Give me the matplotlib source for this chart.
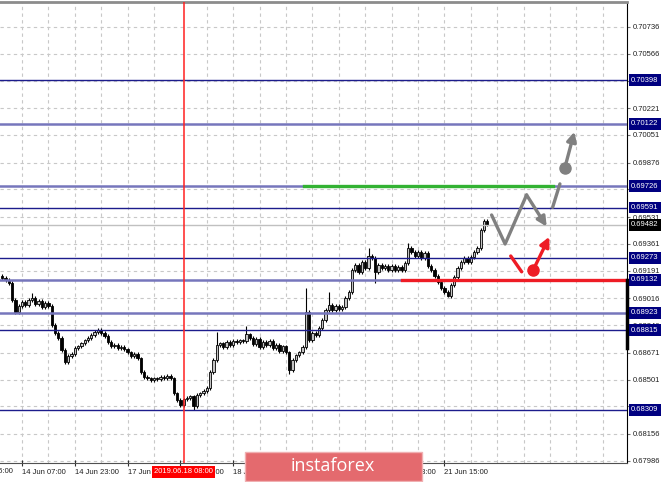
import matplotlib.pyplot as plt
from matplotlib.patches import Rectangle
import numpy as np

# ---------------- data ----------------

# hourly bars, index 0 = 14 Jun 07:00
first_bar = -6
first_open = 0.69157
closes = [
    0.69145, 0.69132, 0.69113, 0.69005, 0.68929, 0.68967,
    0.68992, 0.68973, 0.69005, 0.69018, 0.68980, 0.68999, 0.68961, 0.68986,
    0.68967, 0.68847, 0.68796, 0.68764, 0.68688, 0.68612, 0.68650, 0.68663,
    0.68701, 0.68713, 0.68732, 0.68751, 0.68764, 0.68783, 0.68802, 0.68815,
    0.68796, 0.68777, 0.68739, 0.68713, 0.68720, 0.68701, 0.68707, 0.68694,
    0.68675, 0.68650, 0.68663, 0.68637, 0.68549, 0.68517, 0.68510, 0.68498,
    0.68510, 0.68504, 0.68517, 0.68510, 0.68523, 0.68510, 0.68415, 0.68371,
    0.68339, 0.68377, 0.68384, 0.68396, 0.68333, 0.68403, 0.68415, 0.68428,
    0.68447, 0.68549, 0.68625, 0.68720, 0.68732, 0.68707, 0.68739, 0.68720,
    0.68745, 0.68739, 0.68751, 0.68745, 0.68789, 0.68764, 0.68726, 0.68758,
    0.68707, 0.68739, 0.68720, 0.68745, 0.68701, 0.68720, 0.68682, 0.68713,
    0.68675, 0.68561, 0.68625, 0.68656, 0.68675, 0.68707, 0.68929, 0.68751,
    0.68796, 0.68783, 0.68828, 0.68878, 0.68942, 0.68973, 0.68942, 0.68967,
    0.68948, 0.68961, 0.69018, 0.69056, 0.69195, 0.69227, 0.69183, 0.69246,
    0.69208, 0.69284, 0.69271, 0.69183, 0.69227, 0.69208, 0.69221, 0.69195,
    0.69221, 0.69195, 0.69214, 0.69195, 0.69240, 0.69335, 0.69309, 0.69284,
    0.69309, 0.69271, 0.69303, 0.69221, 0.69195, 0.69157, 0.69119, 0.69081,
    0.69056, 0.69030, 0.69100, 0.69151, 0.69208, 0.69246, 0.69271, 0.69246,
    0.69278, 0.69309, 0.69335, 0.69449, 0.69506, 0.69482,
]
# long wicks that stand out
high_spikes = {3: 0.69050, 59: 0.68802, 68: 0.68840, 86: 0.69081, 93: 0.69056,
               105: 0.69335, 117: 0.69366}
low_spikes = {13: 0.68599, 52: 0.68308, 81: 0.68536, 107: 0.69113, 129: 0.69024}

grid_prices = [0.70736, 0.70566, 0.70396, 0.70221, 0.70051, 0.69876, 0.69706,
               0.69531, 0.69361, 0.69191, 0.69016, 0.68846, 0.68671, 0.68501,
               0.68331, 0.68156, 0.67986]
levels_dark = [0.70398, 0.69591, 0.69273, 0.68815, 0.68309]
levels_light = [0.70122, 0.69726, 0.69132, 0.68923]
current_price = 0.69482
spread_marker = (0.68701, 0.69132)

time_ticks = [-16, 0, 16, 32, 48, 64, 80, 96, 112, 128]
time_labels = ["13 Jun 15:00", "14 Jun 07:00", "14 Jun 23:00", "17 Jun 15:00",
               "18 Jun 07:00", "18 Jun 23:00", "19 Jun 15:00", "20 Jun 07:00",
               "20 Jun 23:00", "21 Jun 15:00"]
event_bar = 49
event_label = "2019.06.18 08:00"

target_price = 0.69726
target_span = (85.5, 160.9)
support_price = 0.69132
support_start = 115

gray_path = [(142.3, 0.69544), (146.4, 0.69360), (152.9, 0.69671), (159.0, 0.69470)]
gray_break = [(160.8, 0.69593), (163.0, 0.69741)]
gray_dot = (164.5, 0.69844)
gray_target = (167.4, 0.70072)
red_dash = [(148.1, 0.69284), (151.4, 0.69184)]
red_dot = (154.9, 0.69195)
red_target = (159.8, 0.69406)

# ---------------- figure ----------------

fig = plt.figure(figsize=(6.65, 4.82), dpi=100)
ax = fig.add_axes([0, 19 / 482, 627 / 665, 461 / 482])
ax.set_xlim(-6.67, 183.33)
ax.set_ylim(0.67972, 0.70894)

font = ['Liberation Sans', 'DejaVu Sans']
navy = '#000080'
red = '#ee1c25'
gray = '#808080'

# grid
for p in grid_prices:
    ax.axhline(p, color='#c8c8c8', lw=0.8, ls=(0, (3, 3)), zorder=0)
for b in range(0, 184, 8):
    if b == 48:
        continue  # hidden behind the event line
    ax.axvline(b, color='#c8c8c8', lw=0.8, ls=(0, (3, 3)), zorder=0)

# candles
closes = np.array(closes)
opens = np.concatenate([[first_open], closes[:-1]])
bars = np.arange(first_bar, first_bar + len(closes))
tops = np.maximum(opens, closes)
bottoms = np.minimum(opens, closes)
highs = tops + 0.0001
lows = bottoms - 0.0001
for b, v in high_spikes.items():
    highs[b - first_bar] = v
for b, v in low_spikes.items():
    lows[b - first_bar] = v
bull = closes >= opens
ax.vlines(bars, lows, highs, color='black', lw=0.8, zorder=2)
ax.bar(bars, np.maximum(tops - bottoms, 0.00002), bottom=bottoms, width=0.7,
       color=np.where(bull, '#c4c4c4', 'black'), edgecolor='black', lw=0.6,
       zorder=2.1)

# horizontal levels
for p in levels_dark:
    ax.axhline(p, color='#1c1c8c', lw=1.0, zorder=3)
for p in levels_light:
    ax.axhline(p, color='#7676bc', lw=1.8, zorder=3)
ax.axhline(current_price, color='#c0c0c0', lw=1.0, zorder=3)
ax.axvline(event_bar, color='#ff2020', lw=1.1, zorder=3)

ax.plot(target_span, [target_price] * 2, color='#33b233', lw=2.4, zorder=4)
ax.plot([support_start, 183.33], [support_price] * 2, color=red, lw=2.4, zorder=4)

# forecast scribbles
gx, gy = zip(*gray_path[:-1])
ax.plot(gx, gy, color=gray, lw=2.4, solid_capstyle='round', zorder=5)
ax.annotate('', xy=gray_path[-1], xytext=gray_path[-2],
            arrowprops=dict(arrowstyle='-|>', color=gray, lw=2.4, mutation_scale=14,
                            shrinkA=0, shrinkB=0), zorder=5)
bx, by = zip(*gray_break)
ax.plot(bx, by, color=gray, lw=2.4, solid_capstyle='round', zorder=5)
ax.plot(*gray_dot, 'o', color=gray, ms=8, zorder=5)
ax.annotate('', xy=gray_target, xytext=gray_dot,
            arrowprops=dict(arrowstyle='-|>', color=gray, lw=2.4, mutation_scale=14,
                            shrinkA=0, shrinkB=0), zorder=5)

rx, ry = zip(*red_dash)
ax.plot(rx, ry, color=red, lw=2.4, solid_capstyle='round', zorder=5)
ax.plot(*red_dot, 'o', color=red, ms=8, zorder=5)
ax.annotate('', xy=red_target, xytext=red_dot,
            arrowprops=dict(arrowstyle='-|>', color=red, lw=2.4, mutation_scale=14,
                            shrinkA=0, shrinkB=0), zorder=5)

# ---------------- axes ----------------

ax.spines['left'].set_visible(False)
ax.spines['top'].set_color('#8c8c8c')
ax.spines['top'].set_linewidth(2)
ax.spines['right'].set_color('black')
ax.spines['bottom'].set_color('#505050')

ax.yaxis.tick_right()
ax.set_yticks(grid_prices)
ax.set_yticklabels([f"{p:.5f}" for p in grid_prices])
ax.tick_params(axis='y', length=2.5, pad=1.5, color='#707070', labelsize=5.5,
               labelcolor='#202020')

inside = [(t, l) for t, l in zip(time_ticks, time_labels) if t >= -6.67]
ax.set_xticks([t for t, _ in inside])
ax.set_xticklabels([l for _, l in inside])
ax.tick_params(axis='x', length=4, direction='inout', pad=2, color='#303030',
               labelsize=5.5, labelcolor='#202020')
for lab in ax.get_xticklabels() + ax.get_yticklabels():
    lab.set_family(font)
for lab in ax.get_xticklabels():
    lab.set_horizontalalignment('left')
for t, l in zip(time_ticks, time_labels):
    if t < -6.67:
        ax.text(t, -0.0195, l, transform=ax.get_xaxis_transform(), ha='left',
                va='center', fontsize=5.5, color='#202020', family=font, clip_on=False)

ax.plot([1, 1], spread_marker, transform=ax.get_yaxis_transform(), color='black',
        lw=2.5, clip_on=False, zorder=6)

# price boxes on the right scale
for p in levels_dark + levels_light:
    ax.text(1.0065, p, f"{p:.5f}", transform=ax.get_yaxis_transform(), ha='left',
            va='center', fontsize=5.5, color='white', family=font, clip_on=False,
            zorder=10, bbox=dict(boxstyle='square,pad=0.3', fc=navy, ec='none'))
ax.text(1.0065, current_price, f"{current_price:.5f}", transform=ax.get_yaxis_transform(),
        ha='left', va='center', fontsize=5.5, color='white', family=font,
        clip_on=False, zorder=10, bbox=dict(boxstyle='square,pad=0.3', fc='black', ec='none'))

ax.text(event_bar, -0.0195, event_label, transform=ax.get_xaxis_transform(),
        ha='center', va='center', fontsize=5.5, color='white', family=font,
        clip_on=False, zorder=10,
        bbox=dict(boxstyle='square,pad=0.3', fc='#ff0000', ec='none'))

# watermark banner
fig.patches.append(Rectangle((245 / 665, 1 / 482), 177 / 665, 29 / 482,
                             transform=fig.transFigure, fc='#e46a6e', ec='#f0b0b2',
                             lw=1, zorder=20))
fig.text(333 / 665, 16 / 482, "instaforex", ha='center', va='center', fontsize=13,
         color='white', family=['Open Sans', 'DejaVu Sans'], zorder=21)

fig.savefig('out.png', dpi=100)
